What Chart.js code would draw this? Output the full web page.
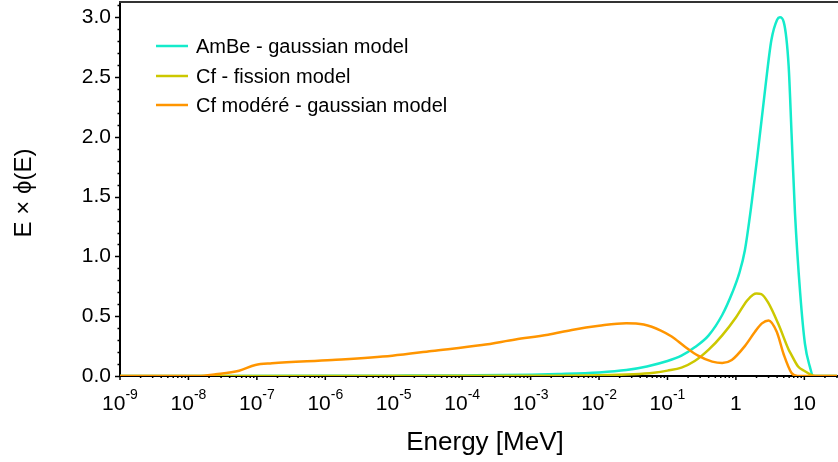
<!DOCTYPE html>
<html>
<head>
<meta charset="utf-8">
<script src="https://cdn.jsdelivr.net/npm/chart.js@4.4.1/dist/chart.umd.min.js"></script>
<style>
  body { margin: 0; background: #fff; }
  #wrap { width: 838px; height: 462px; }
</style>
</head>
<body>
<div id="wrap"><canvas id="spectrumChart" width="838" height="462"></canvas></div>
<script>
// Spectres de neutrons : E x phi(E) en fonction de l'énergie (MeV)
const seriesLabels = ['AmBe - gaussian model', 'Cf - fission model', 'Cf modéré - gaussian model'];
const seriesColors = ['#14EBCB', '#CCC800', '#FF9500'];

const ambeEnergy = [1e-9, 1e-6, 1e-5, 1e-4, 1e-3, 0.0025, 0.01, 0.025, 0.05, 0.1, 0.16, 0.25, 0.4, 0.63,
                    0.89, 1.12, 1.35, 1.7, 2.14, 2.7, 3.3, 4.0, 4.4, 5.0, 5.9, 6.5, 7.3, 8.7, 10.2, 12, 13.5, 30];
const ambeFlux   = [0, 0.002, 0.003, 0.005, 0.01, 0.016, 0.03, 0.05, 0.08, 0.125, 0.17, 0.24, 0.34, 0.51,
                    0.70, 0.86, 1.05, 1.45, 1.92, 2.42, 2.81, 2.98, 3.0, 2.96, 2.59, 2.03, 1.36, 0.69, 0.27, 0.08, 0, 0];

const cfEnergy = [1e-9, 1e-3, 0.01, 0.032, 0.063, 0.1, 0.16, 0.25, 0.4, 0.63, 1.0, 1.45, 1.78, 2.0,
                  2.35, 2.95, 4.2, 5.9, 6.3, 8.1, 10.2, 12.6, 14.5, 30];
const cfFlux   = [0, 0.002, 0.006, 0.015, 0.028, 0.045, 0.07, 0.125, 0.22, 0.34, 0.49, 0.63, 0.68, 0.69,
                  0.685, 0.615, 0.43, 0.22, 0.19, 0.08, 0.04, 0.01, 0, 0];

const cfModEnergy = [1e-9, 1.4e-8, 2.5e-8, 5.5e-8, 9.5e-8, 1.66e-7, 1.26e-6, 9.5e-6, 3.6e-5, 1.95e-4, 6e-4, 1.8e-3,
                     4e-3, 0.01, 0.025, 0.045, 0.08, 0.115, 0.18, 0.28, 0.45, 0.63, 0.87, 1.35, 1.9, 2.4, 3.0,
                     3.95, 5.0, 6.5, 8, 30];
const cfModFlux   = [0, 0, 0.014, 0.044, 0.092, 0.106, 0.134, 0.17, 0.209, 0.259, 0.305, 0.345,
                     0.385, 0.42, 0.442, 0.43, 0.38, 0.33, 0.245, 0.17, 0.12, 0.108, 0.134, 0.25, 0.37, 0.44, 0.465,
                     0.37, 0.18, 0.025, 0, 0];

const decadeValues = [1e-9, 1e-8, 1e-7, 1e-6, 1e-5, 1e-4, 1e-3, 1e-2, 1e-1, 1, 10];
const decadeLabels = [['10', '-9'], ['10', '-8'], ['10', '-7'], ['10', '-6'], ['10', '-5'], ['10', '-4'],
                      ['10', '-3'], ['10', '-2'], ['10', '-1'], ['1', ''], ['10', '']];
const xMin = 1e-9, xMax = 30;
const yMin = 0, yMax = 3.12;

function toPoints(xs, ys) {
    return xs.map((x, i) => ({ x: x, y: ys[i] }));
}

const FONT = "'Liberation Sans', Arial, Helvetica, sans-serif";

const decorPlugin = {
    id: 'decor',
    afterDraw(chart) {
        const ctx = chart.ctx;
        const area = chart.chartArea;
        const xs = chart.scales.x;
        const ys = chart.scales.y;
        ctx.save();

        // cadre du haut
        ctx.strokeStyle = '#333';
        ctx.lineWidth = 2;
        ctx.beginPath();
        ctx.moveTo(area.left - 1, area.top - 1);
        ctx.lineTo(area.right + 2, area.top - 1);
        ctx.stroke();

        // graduations Y
        ctx.strokeStyle = '#000';
        ctx.lineWidth = 1.5;
        for (let k = 0; k <= 31; k++) {
            const v = k / 10;
            const py = Math.round(ys.getPixelForValue(v)) + 0.5;
            const len = (k % 5 === 0) ? 5 : 2.5;
            ctx.beginPath();
            ctx.moveTo(area.left, py);
            ctx.lineTo(area.left - len, py);
            ctx.stroke();
        }

        // graduations X (décades + mineures)
        for (let d = -9; d <= 1; d++) {
            for (let m = 1; m <= 9; m++) {
                const v = m * Math.pow(10, d);
                if (v > xMax) break;
                const px = xs.getPixelForValue(v);
                const len = (m === 1) ? 4 : 2;
                ctx.beginPath();
                ctx.moveTo(px, area.bottom);
                ctx.lineTo(px, area.bottom + len);
                ctx.stroke();
            }
        }

        // étiquettes X avec exposants
        ctx.fillStyle = '#000';
        ctx.textBaseline = 'alphabetic';
        decadeValues.forEach((v, i) => {
            const px = xs.getPixelForValue(v);
            const base = decadeLabels[i][0];
            const exp = decadeLabels[i][1];
            ctx.font = '21px ' + FONT;
            const wb = ctx.measureText(base).width;
            ctx.font = '14px ' + FONT;
            const we = exp ? ctx.measureText(exp).width : 0;
            const x0 = px - (wb + we) / 2;
            ctx.font = '21px ' + FONT;
            ctx.textAlign = 'left';
            ctx.fillText(base, x0, 410);
            if (exp) {
                ctx.font = '14px ' + FONT;
                ctx.fillText(exp, x0 + wb, 399);
            }
        });

        // titres des axes
        ctx.textAlign = 'center';
        ctx.textBaseline = 'middle';
        ctx.font = '26px ' + FONT;
        ctx.fillText('Energy [MeV]', 485, 443);
        ctx.save();
        ctx.translate(24, 193);
        ctx.rotate(-Math.PI / 2);
        ctx.font = '24px ' + FONT;
        ctx.fillText('E × \u03D5(E)', 0, 0);
        ctx.restore();

        // légende
        const legendY = [46, 76, 105];
        ctx.textAlign = 'left';
        ctx.font = '20px ' + FONT;
        seriesLabels.forEach((lab, i) => {
            ctx.strokeStyle = seriesColors[i];
            ctx.lineWidth = 2.5;
            ctx.beginPath();
            ctx.moveTo(156, legendY[i]);
            ctx.lineTo(188, legendY[i]);
            ctx.stroke();
            ctx.fillStyle = '#000';
            ctx.fillText(lab, 196, legendY[i] + 1);
        });

        ctx.restore();
    }
};

const ctx = document.getElementById('spectrumChart').getContext('2d');
new Chart(ctx, {
    type: 'line',
    data: {
        datasets: [
            { label: seriesLabels[0], data: toPoints(ambeEnergy, ambeFlux), borderColor: seriesColors[0], order: 2 },
            { label: seriesLabels[1], data: toPoints(cfEnergy, cfFlux), borderColor: seriesColors[1], order: 1 },
            { label: seriesLabels[2], data: toPoints(cfModEnergy, cfModFlux), borderColor: seriesColors[2], order: 0 }
        ]
    },
    options: {
        responsive: false,
        animation: false,
        events: [],
        layout: { padding: { top: 3, right: 1, left: 0, bottom: 0 } },
        elements: {
            point: { radius: 0 },
            line: { borderWidth: 2.5, fill: false, cubicInterpolationMode: 'monotone' }
        },
        plugins: {
            legend: { display: false },
            tooltip: { enabled: false }
        },
        scales: {
            x: {
                type: 'logarithmic',
                min: xMin,
                max: xMax,
                grid: { display: false, drawTicks: false },
                border: { display: true, color: '#000', width: 2 },
                ticks: { display: false },
                afterFit: function (scale) {
                    scale.height = 86;
                    scale.paddingLeft = 0;
                    scale.paddingRight = 0;
                }
            },
            y: {
                type: 'linear',
                min: yMin,
                max: yMax,
                grid: { display: false, drawTicks: false },
                border: { display: true, color: '#000', width: 2 },
                ticks: {
                    stepSize: 0.5,
                    includeBounds: false,
                    padding: 9,
                    color: '#000',
                    font: { family: FONT, size: 21 },
                    callback: function (v) {
                        return Math.abs(v * 2 - Math.round(v * 2)) < 1e-6 ? v.toFixed(1) : '';
                    }
                },
                afterFit: function (scale) {
                    scale.width = 120;
                    scale.paddingTop = 0;
                    scale.paddingBottom = 0;
                }
            }
        }
    },
    plugins: [decorPlugin]
});
</script>
</body>
</html>
